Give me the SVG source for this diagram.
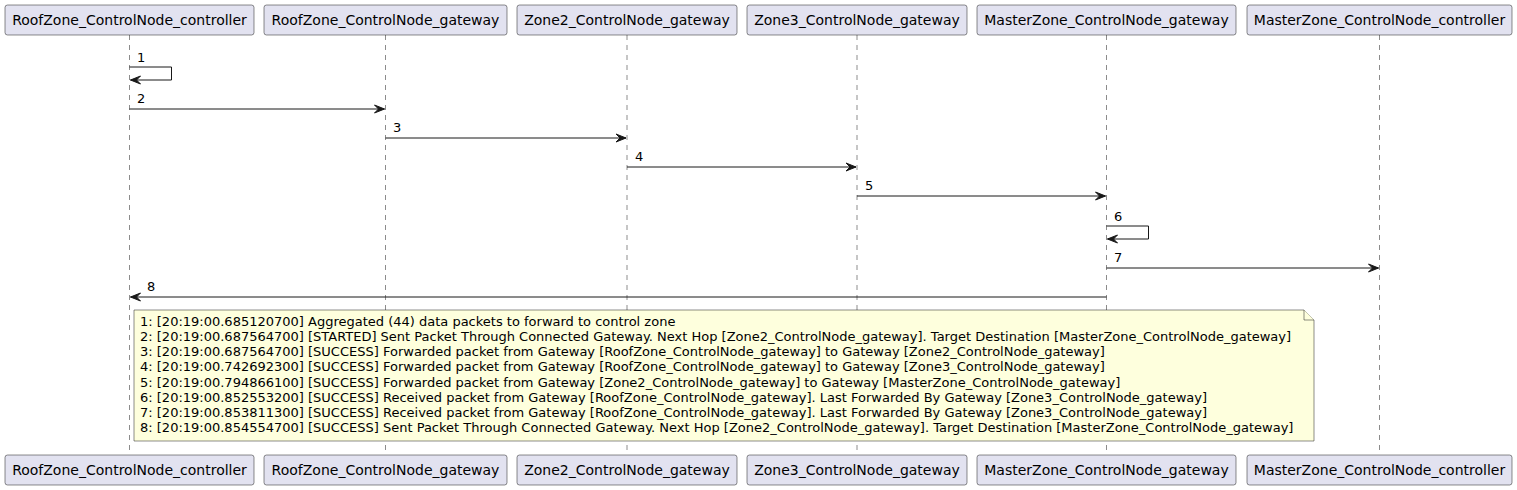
<svg xmlns="http://www.w3.org/2000/svg" width="1517" height="490" viewBox="0 0 1517 490">
<style>
.box{fill:#E2E2F0;stroke:#181818;stroke-width:0.5}
.pt{font-family:"DejaVu Sans",sans-serif;font-size:14px;fill:#000;text-anchor:middle}
.life{stroke:#181818;stroke-width:0.5;stroke-dasharray:5,5;fill:none}
.msg{stroke:#181818;stroke-width:1;fill:none}
.head{fill:#181818;stroke:#181818;stroke-width:1}
.ml{font-family:"DejaVu Sans",sans-serif;font-size:13px;fill:#000}
.note{fill:#FEFFDD;stroke:#181818;stroke-width:0.5}
.nt{font-family:"DejaVu Sans",sans-serif;font-size:13px;fill:#000}
</style>
<rect width="1517" height="490" fill="#FFFFFF"/>
<g id="lifelines">
<line class="life" x1="129.5" y1="35" x2="129.5" y2="455"/>
<line class="life" x1="385.5" y1="35" x2="385.5" y2="455"/>
<line class="life" x1="627" y1="35" x2="627" y2="455"/>
<line class="life" x1="857" y1="35" x2="857" y2="455"/>
<line class="life" x1="1106.5" y1="35" x2="1106.5" y2="455"/>
<line class="life" x1="1379.5" y1="35" x2="1379.5" y2="455"/>
</g>
<g id="p1">
<rect class="box" x="5" y="5" width="249" height="30" rx="2.5"/>
<text class="pt" x="129.5" y="25">RoofZone_ControlNode_controller</text>
<rect class="box" x="5" y="455" width="249" height="30" rx="2.5"/>
<text class="pt" x="129.5" y="475">RoofZone_ControlNode_controller</text>
</g>
<g id="p2">
<rect class="box" x="264" y="5" width="243" height="30" rx="2.5"/>
<text class="pt" x="385.5" y="25">RoofZone_ControlNode_gateway</text>
<rect class="box" x="264" y="455" width="243" height="30" rx="2.5"/>
<text class="pt" x="385.5" y="475">RoofZone_ControlNode_gateway</text>
</g>
<g id="p3">
<rect class="box" x="517" y="5" width="220" height="30" rx="2.5"/>
<text class="pt" x="627" y="25">Zone2_ControlNode_gateway</text>
<rect class="box" x="517" y="455" width="220" height="30" rx="2.5"/>
<text class="pt" x="627" y="475">Zone2_ControlNode_gateway</text>
</g>
<g id="p4">
<rect class="box" x="747" y="5" width="220" height="30" rx="2.5"/>
<text class="pt" x="857" y="25">Zone3_ControlNode_gateway</text>
<rect class="box" x="747" y="455" width="220" height="30" rx="2.5"/>
<text class="pt" x="857" y="475">Zone3_ControlNode_gateway</text>
</g>
<g id="p5">
<rect class="box" x="977" y="5" width="259" height="30" rx="2.5"/>
<text class="pt" x="1106.5" y="25">MasterZone_ControlNode_gateway</text>
<rect class="box" x="977" y="455" width="259" height="30" rx="2.5"/>
<text class="pt" x="1106.5" y="475">MasterZone_ControlNode_gateway</text>
</g>
<g id="p6">
<rect class="box" x="1247" y="5" width="265" height="30" rx="2.5"/>
<text class="pt" x="1379.5" y="25">MasterZone_ControlNode_controller</text>
<rect class="box" x="1247" y="455" width="265" height="30" rx="2.5"/>
<text class="pt" x="1379.5" y="475">MasterZone_ControlNode_controller</text>
</g>
<g id="connectors">
<polyline class="msg" points="129.5,67 171.5,67 171.5,80 130.5,80"/>
<polygon class="head" points="140.5,76 130.5,80 140.5,84 136.5,80"/>
<text class="ml" x="137" y="62">1</text>
<line class="msg" x1="129.5" y1="109" x2="384.5" y2="109"/>
<polygon class="head" points="374.5,105 384.5,109 374.5,113 378.5,109"/>
<text class="ml" x="137" y="103">2</text>
<line class="msg" x1="385.5" y1="138" x2="626" y2="138"/>
<polygon class="head" points="616,134 626,138 616,142 620,138"/>
<text class="ml" x="393" y="132">3</text>
<line class="msg" x1="627" y1="167" x2="856" y2="167"/>
<polygon class="head" points="846,163 856,167 846,171 850,167"/>
<text class="ml" x="635" y="161">4</text>
<line class="msg" x1="857" y1="196" x2="1105.5" y2="196"/>
<polygon class="head" points="1095.5,192 1105.5,196 1095.5,200 1099.5,196"/>
<text class="ml" x="865" y="190">5</text>
<polyline class="msg" points="1106.5,226 1148.5,226 1148.5,239 1107.5,239"/>
<polygon class="head" points="1117.5,235 1107.5,239 1117.5,243 1113.5,239"/>
<text class="ml" x="1114" y="221">6</text>
<line class="msg" x1="1106.5" y1="268" x2="1378.5" y2="268"/>
<polygon class="head" points="1368.5,264 1378.5,268 1368.5,272 1372.5,268"/>
<text class="ml" x="1114" y="262">7</text>
<line class="msg" x1="1106.5" y1="297" x2="130.5" y2="297"/>
<polygon class="head" points="140.5,293 130.5,297 140.5,301 136.5,297"/>
<text class="ml" x="147" y="291">8</text>
</g>
<g id="note">
<path class="note" d="M134,310 L134,441 L1314,441 L1314,320 L1304,310 Z"/>
<path class="note" d="M1304,310 L1304,320 L1314,320"/>
<text class="nt" x="140" y="326">1: [20:19:00.685120700] Aggregated (44) data packets to forward to control zone</text>
<text class="nt" x="140" y="341.1">2: [20:19:00.687564700] [STARTED] Sent Packet Through Connected Gateway. Next Hop [Zone2_ControlNode_gateway]. Target Destination [MasterZone_ControlNode_gateway]</text>
<text class="nt" x="140" y="356.3">3: [20:19:00.687564700] [SUCCESS] Forwarded packet from Gateway [RoofZone_ControlNode_gateway] to Gateway [Zone2_ControlNode_gateway]</text>
<text class="nt" x="140" y="371.4">4: [20:19:00.742692300] [SUCCESS] Forwarded packet from Gateway [RoofZone_ControlNode_gateway] to Gateway [Zone3_ControlNode_gateway]</text>
<text class="nt" x="140" y="386.5">5: [20:19:00.794866100] [SUCCESS] Forwarded packet from Gateway [Zone2_ControlNode_gateway] to Gateway [MasterZone_ControlNode_gateway]</text>
<text class="nt" x="140" y="401.7">6: [20:19:00.852553200] [SUCCESS] Received packet from Gateway [RoofZone_ControlNode_gateway]. Last Forwarded By Gateway [Zone3_ControlNode_gateway]</text>
<text class="nt" x="140" y="416.8">7: [20:19:00.853811300] [SUCCESS] Received packet from Gateway [RoofZone_ControlNode_gateway]. Last Forwarded By Gateway [Zone3_ControlNode_gateway]</text>
<text class="nt" x="140" y="431.9">8: [20:19:00.854554700] [SUCCESS] Sent Packet Through Connected Gateway. Next Hop [Zone2_ControlNode_gateway]. Target Destination [MasterZone_ControlNode_gateway]</text>
</g>
</svg>
